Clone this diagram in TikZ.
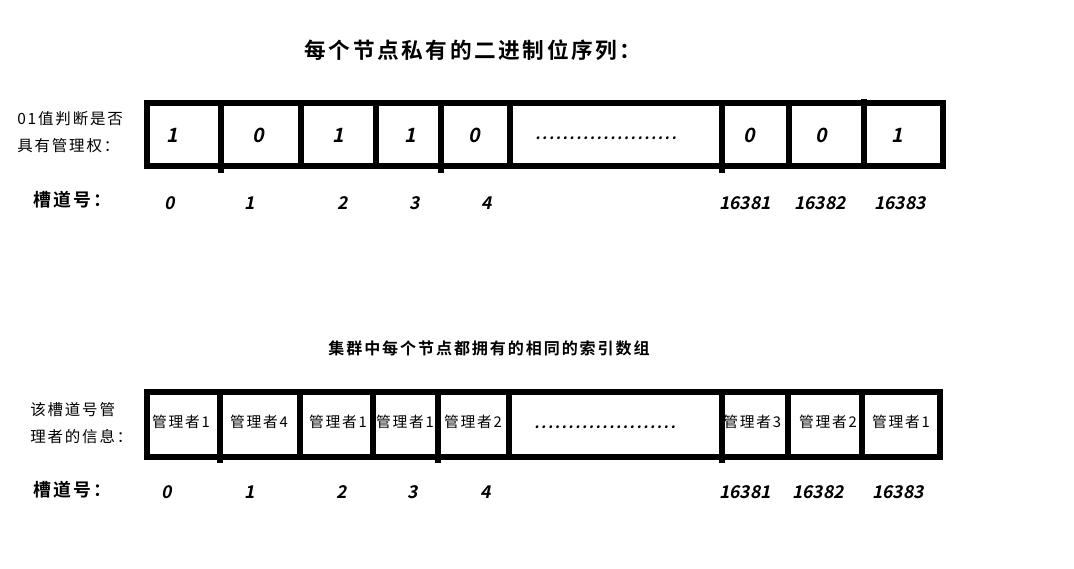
\documentclass[tikz,border=0pt]{standalone}
\usepackage{fontspec}
\newfontfamily\cjk[LetterSpace=12]{Noto Sans CJK SC}
\newfontfamily\cjkb[LetterSpace=12]{Noto Sans CJK SC Bold}
\newfontfamily\hand[FakeSlant=0.2]{Noto Sans CJK SC Bold}
\tikzset{
  arr/.style={line width=3.6pt},
  bit/.style={font=\hand\fontsize{14}{16}\selectfont},
  dots/.style={font=\hand\fontsize{11}{13}\selectfont},
  slot/.style={font=\hand\fontsize{12.5}{14}\selectfont},
  owner/.style={font=\cjk\fontsize{10.5}{12}\selectfont,inner sep=0pt},
  lbl/.style={font=\cjk\fontsize{11}{19}\selectfont,align=left,anchor=west,inner sep=0pt},
  slotlbl/.style={font=\cjkb\fontsize{12.7}{15}\selectfont,anchor=west,inner sep=0pt},
}

\begin{document}
\begin{tikzpicture}[x=0.025cm,y=-0.025cm]
        \useasboundingbox (0,0) rectangle (1074,569);

        \draw (473,50) node[font=\cjkb\fontsize{15.4}{18}\selectfont] (title1) {每个节点私有的二进制位序列：};
        \draw (17,132) node[lbl] (lbl1) {01值判断是否\\具有管理权：};
        \draw (33,200) node[slotlbl] (slot1) {槽道号：};

        \draw[arr] (147,103) rectangle (943,166);
        \draw[arr] (221,103) -- (221,173);
        \draw[arr] (301,103) -- (301,166);
        \draw[arr] (376,103) -- (376,166);
        \draw[arr] (441,103) -- (441,173);
        \draw[arr] (510,103) -- (510,166);
        \draw[arr] (722,103) -- (722,173);
        \draw[arr] (789,106) -- (789,166);
        \draw[arr] (864,99) -- (864,166);

        \draw (172,135) node[bit] (b0) {1};
        \draw (258,135) node[bit] (b1) {0};
        \draw (338,135) node[bit] (b2) {1};
        \draw (410,135) node[bit] (b3) {1};
        \draw (474,135) node[bit] (b4) {0};
        \draw (606,138) node[dots] (bdots) {\makebox[3.7cm]{\dotfill}};
        \draw (749,135) node[bit] (b16381) {0};
        \draw (821,135) node[bit] (b16382) {0};
        \draw (897,135) node[bit] (b16383) {1};

        \draw (170,203) node[slot] (n0) {0};
        \draw (250,203) node[slot] (n1) {1};
        \draw (343,203) node[slot] (n2) {2};
        \draw (415,203) node[slot] (n3) {3};
        \draw (487,203) node[slot] (n4) {4};
        \draw (745,203) node[slot] (n16381) {16381};
        \draw (820,203) node[slot] (n16382) {16382};
        \draw (900,203) node[slot] (n16383) {16383};

        \draw (489,348) node[font=\cjkb\fontsize{11.4}{14}\selectfont] (title2) {集群中每个节点都拥有的相同的索引数组};
        \draw (30,423) node[lbl] (lbl2) {该槽道号管\\理者的信息：};
        \draw (33,490) node[slotlbl] (slot2) {槽道号：};

        \draw (181,422) node[owner] (m0) {管理者1};
        \draw (259,422) node[owner] (m1) {管理者4};
        \draw (338,422) node[owner] (m2) {管理者1};
        \draw (405,422) node[owner] (m3) {管理者1};
        \draw (473,422) node[owner] (m4) {管理者2};
        \draw (605,427) node[dots] (mdots) {\makebox[3.7cm]{\dotfill}};
        \draw (723,422) node[owner,anchor=west] (m16381) {管理者3};
        \draw (828,422) node[owner] (m16382) {管理者2};
        \draw (901,422) node[owner] (m16383) {管理者1};

        \draw[arr] (147,392) rectangle (940,457);
        \draw[arr] (220,392) -- (220,463);
        \draw[arr] (300,392) -- (300,457);
        \draw[arr] (373,392) -- (373,457);
        \draw[arr] (438,392) -- (438,463);
        \draw[arr] (509,392) -- (509,457);
        \draw[arr] (722,392) -- (722,463);
        \draw[arr] (788,395) -- (788,457);
        \draw[arr] (862,389) -- (862,457);

        \draw (167,492) node[slot] (k0) {0};
        \draw (250,492) node[slot] (k1) {1};
        \draw (342,492) node[slot] (k2) {2};
        \draw (413,492) node[slot] (k3) {3};
        \draw (486,492) node[slot] (k4) {4};
        \draw (745,492) node[slot] (k16381) {16381};
        \draw (818,492) node[slot] (k16382) {16382};
        \draw (898,492) node[slot] (k16383) {16383};
    \end{tikzpicture}
\end{document}
